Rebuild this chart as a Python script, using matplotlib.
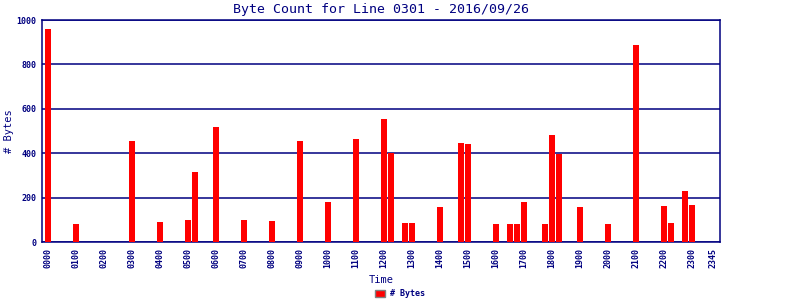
import matplotlib.pyplot as plt
from matplotlib.patches import Patch

# time slots (hhmm, 15 minute buckets) that have traffic, and the byte counts
times = ["0000", "0100", "0300", "0400", "0500", "0515", "0600", "0700",
         "0800", "0900", "1000", "1100", "1200", "1215", "1245", "1300",
         "1400", "1445", "1500", "1600", "1630", "1645", "1700", "1745",
         "1800", "1815", "1900", "2000", "2100", "2200", "2215", "2245", "2300"]
byte_counts = [960, 82, 456, 91, 100, 316, 519, 100,
               96, 456, 181, 465, 555, 402, 87, 87,
               159, 447, 442, 82, 82, 82, 181, 82,
               483, 399, 159, 82, 888, 163, 87, 231, 168]
tick_labels = ["%02d00" % h for h in range(24)] + ["2345"]
y_ticks = [0, 200, 400, 600, 800, 1000]

navy = "#000080"
mono = "DejaVu Sans Mono"


def slot(hhmm):
    return int(hhmm[:2]) * 4 + int(hhmm[2:]) // 15


fig = plt.figure(figsize=(8, 3), dpi=100)
ax = fig.add_axes([0.0525, 0.193, 0.8475, 0.74])

x = [slot(t) for t in times]
ax.bar(x, byte_counts, width=0.86, color="#ff0000", zorder=3)

ax.set_xlim(-0.86, 96)
ax.set_ylim(0, 1000)
ax.set_yticks(y_ticks)
ax.set_yticklabels([str(v) for v in y_ticks], family=mono, fontsize=6,
                   fontweight="bold", color=navy)
ax.set_xticks([slot(t) for t in tick_labels])
ax.set_xticklabels(tick_labels, rotation=90, family=mono, fontsize=6,
                   fontweight="bold", color=navy)
ax.tick_params(length=0, pad=4)
ax.grid(axis="y", color=navy, linewidth=1.1, zorder=1)

for s in ax.spines.values():
    s.set_color(navy)
    s.set_linewidth(1.1)

ax.set_title("Byte Count for Line 0301 - 2016/09/26", family=mono,
             fontsize=9.5, color=navy, pad=5)
ax.set_xlabel("Time", family=mono, fontsize=7.5, color=navy, labelpad=5)
ax.set_ylabel("# Bytes", family=mono, fontsize=7.5, color=navy)
ax.yaxis.set_label_coords(-0.042, 0.5)

handle = Patch(facecolor="#ff0000", edgecolor="#808080", linewidth=1)
fig.legend([handle], ["# Bytes"], loc="lower center",
           bbox_to_anchor=(0.5, -0.02), frameon=False, handlelength=1.1,
           handleheight=0.9, handletextpad=0.6,
           prop={"family": mono, "size": 6, "weight": "bold"},
           labelcolor=navy)

fig.savefig("out.png", dpi=100)
